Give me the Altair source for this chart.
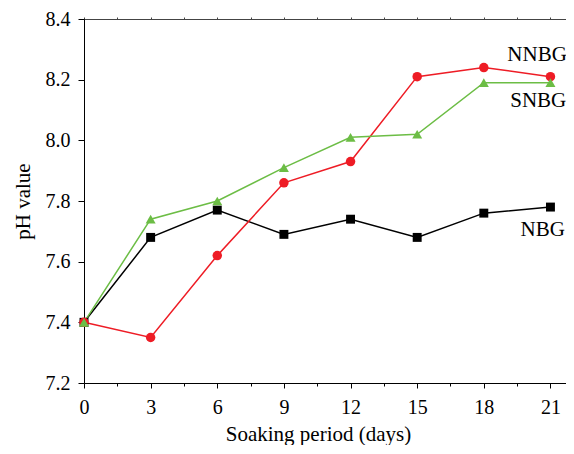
import altair as alt
import pandas as pd

days = [0, 3, 6, 9, 12, 15, 18, 21]
nbg = [7.40, 7.68, 7.77, 7.69, 7.74, 7.68, 7.76, 7.78]
nnbg = [7.40, 7.35, 7.62, 7.86, 7.93, 8.21, 8.24, 8.21]
snbg = [7.40, 7.74, 7.80, 7.91, 8.01, 8.02, 8.19, 8.19]

series_names = ["NBG", "NNBG", "SNBG"]
series_colors = ["#000000", "#ee1c25", "#6cbd45"]
series_shapes = ["square", "circle", "triangle-up"]

label_names = ["NNBG", "SNBG", "NBG"]
label_x = [20.4, 20.45, 20.65]
label_y = [8.28, 8.13, 7.705]

x_ticks = [0, 1.5, 3, 4.5, 6, 7.5, 9, 10.5, 12, 13.5, 15, 16.5, 18, 19.5, 21]
y_ticks = [7.2, 7.3, 7.4, 7.5, 7.6, 7.7, 7.8, 7.9, 8.0, 8.1, 8.2, 8.3, 8.4]

rows = []
for name, vals in zip(series_names, [nbg, nnbg, snbg]):
    for d, v in zip(days, vals):
        rows.append({"day": d, "pH": v, "series": name})
df = pd.DataFrame(rows)
labels = pd.DataFrame({"name": label_names, "x": label_x, "y": label_y})

FONT = "Liberation Serif"
xs = alt.Scale(domain=[0, 21.7], nice=False, zero=False)
ys = alt.Scale(domain=[7.2, 8.4], nice=False, zero=False)
color = alt.Color("series:N", scale=alt.Scale(domain=series_names, range=series_colors), legend=None)

x_minor_test = "datum.value % 3 !== 0"
y_minor_test = "round(datum.value * 10) % 2 !== 0"

x_axis = alt.Axis(values=x_ticks, title="Soaking period (days)", grid=False,
                  labelExpr="datum.value % 3 === 0 ? format(datum.value, 'd') : ''",
                  tickSize={"condition": {"test": x_minor_test, "value": 3}, "value": 5},
                  tickColor="black", domainColor="black", labelFont=FONT,
                  labelFontSize=20, labelColor="black", labelPadding=9, labelFlush=False,
                  titleFont=FONT, titleFontSize=21, titleFontWeight="normal", titleColor="black",
                  titlePadding=6, titleX=234, orient="bottom")
y_axis = alt.Axis(values=y_ticks, title="pH value", grid=False,
                  labelExpr="round(datum.value * 10) % 2 === 0 ? format(datum.value, '.1f') : ''",
                  tickSize={"condition": {"test": y_minor_test, "value": 3}, "value": 6},
                  tickColor="black", domainColor="black", labelFont=FONT,
                  labelFontSize=20, labelColor="black", labelPadding=8, labelFlush=False,
                  titleFont=FONT, titleFontSize=21, titleFontWeight="normal", titleColor="black",
                  titlePadding=12, orient="left")

lines = alt.Chart(df).mark_line(strokeWidth=1.5).encode(
    x=alt.X("day:Q", scale=xs, axis=x_axis),
    y=alt.Y("pH:Q", scale=ys, axis=y_axis),
    color=color,
    detail="series:N",
    order="day:Q",
)

points = alt.Chart(df).mark_point(filled=True, opacity=1).encode(
    x=alt.X("day:Q", scale=xs, axis=None),
    y=alt.Y("pH:Q", scale=ys),
    color=color,
    shape=alt.Shape("series:N", scale=alt.Scale(domain=series_names, range=series_shapes), legend=None),
    size=alt.Size("series:N", scale=alt.Scale(domain=series_names, range=[80, 100, 130]), legend=None),
)

texts = alt.Chart(labels).mark_text(font=FONT, fontSize=21, color="black").encode(
    x=alt.X("x:Q", scale=xs, axis=None),
    y=alt.Y("y:Q", scale=ys),
    text="name:N",
)

top = alt.Chart(df).mark_point(opacity=0).encode(
    x=alt.X("day:Q", scale=xs, axis=alt.Axis(values=x_ticks, labels=False, domain=True,
                                             domainColor="#444444", grid=False, title=None, tickSize=2,
                                             tickColor="#444444", orient="top")),
    y=alt.Y("pH:Q", scale=ys),
)

chart = alt.layer(lines, points, texts, top).resolve_axis(x="independent").properties(
    width=482, height=364,
    padding={"left": 76, "top": 11, "right": 0, "bottom": 62},
    autosize=alt.AutoSizeParams(type="none"),
).configure_view(stroke="#999999", strokeWidth=1)

chart.save("out.html", embed_options={"renderer": "svg", "actions": False})
